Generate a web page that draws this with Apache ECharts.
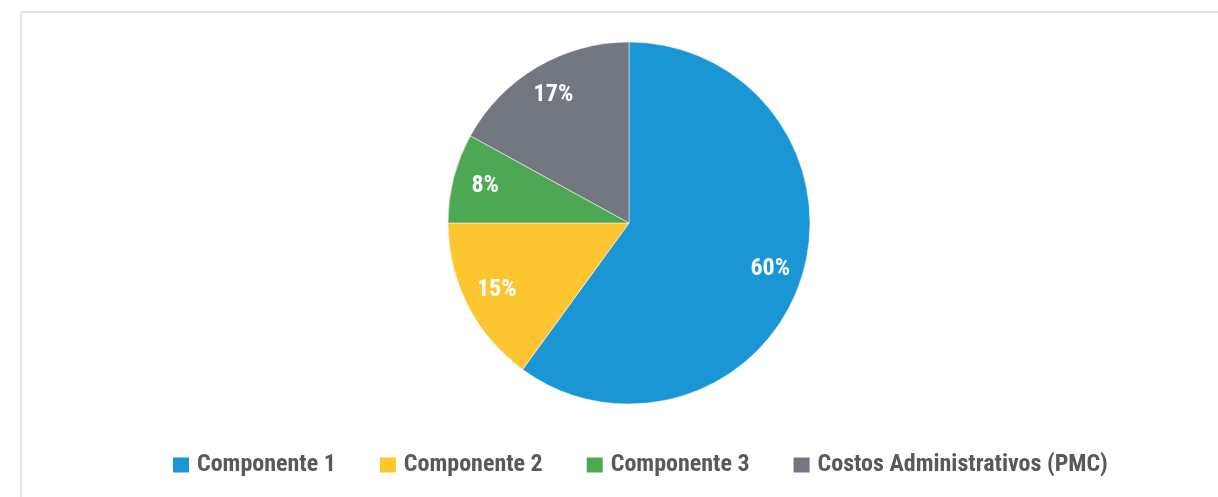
<!DOCTYPE html>
<html>
<head>
<meta charset="utf-8">
<script src="https://cdn.jsdelivr.net/npm/echarts@6/dist/echarts.min.js"></script>
<style>
html,body{margin:0;padding:0;background:#fff;}
#c{width:1218px;height:497px;}
</style>
</head>
<body>
<div id="c"></div>
<script>
const categories = ['Componente 1', 'Componente 2', 'Componente 3', 'Costos Administrativos (PMC)'];
const values = [60, 15, 8, 17];
const colors = ['#1a96d5', '#fdc52f', '#4ea853', '#737880'];

const FONT = '"Roboto Condensed", "Open Sans Condensed", "DejaVu Sans Condensed", sans-serif';
const data = categories.map((n, i) => ({ name: n, value: values[i] }));
const chart = echarts.init(document.getElementById('c'), null, { renderer: 'canvas' });
chart.setOption({
  animation: false,
  color: colors,
  graphic: [{
    type: 'rect', silent: true, z: -10,
    shape: { x: 21, y: 12, width: 1400, height: 700 },
    style: { fill: 'none', stroke: '#e6e6e6', lineWidth: 2 }
  }],
  legend: {
    data: categories,
    left: 173, top: 453, padding: 0,
    itemWidth: 16, itemHeight: 15, itemGap: 44,
    icon: 'rect',
    itemStyle: { borderWidth: 0 },
    textStyle: { fontFamily: FONT, fontWeight: 'bold', fontSize: 24, color: '#595959', padding: [0, 0, 0, 3] }
  },
  series: [{
    type: 'pie',
    center: [629, 223],
    radius: [0, 181],
    startAngle: 90,
    clockwise: true,
    label: { show: false },
    labelLine: { show: false },
    itemStyle: { borderColor: '#ffffff', borderWidth: 0.5 },
    emphasis: { disabled: true },
    data: data
  }, {
    type: 'pie',
    center: [629, 223],
    radius: [110, 181],
    startAngle: 90,
    clockwise: true,
    silent: true,
    itemStyle: { color: 'rgba(0,0,0,0)' },
    label: {
      show: true, position: 'inside',
      formatter: p => p.value + '%',
      fontFamily: FONT, fontWeight: 'bold', fontSize: 24, color: '#ffffff'
    },
    labelLine: { show: false },
    emphasis: { disabled: true },
    data: data
  }]
});
</script>
</body>
</html>
